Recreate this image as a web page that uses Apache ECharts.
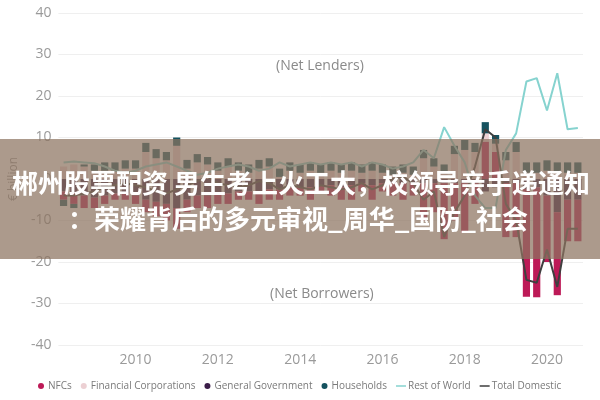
<!DOCTYPE html>
<html>
<head>
<meta charset="utf-8">
<script src="https://cdn.jsdelivr.net/npm/echarts@6/dist/echarts.min.js"></script>
<style>html,body{margin:0;padding:0;background:#fff}#c{width:600px;height:400px}</style>
</head>
<body>
<div id="c"></div>
<script>
const quarters = ['2008Q2','2008Q3','2008Q4',
 '2009Q1','2009Q2','2009Q3','2009Q4','2010Q1','2010Q2','2010Q3','2010Q4',
 '2011Q1','2011Q2','2011Q3','2011Q4','2012Q1','2012Q2','2012Q3','2012Q4',
 '2013Q1','2013Q2','2013Q3','2013Q4','2014Q1','2014Q2','2014Q3','2014Q4',
 '2015Q1','2015Q2','2015Q3','2015Q4','2016Q1','2016Q2','2016Q3','2016Q4',
 '2017Q1','2017Q2','2017Q3','2017Q4','2018Q1','2018Q2','2018Q3','2018Q4',
 '2019Q1','2019Q2','2019Q3','2019Q4','2020Q1','2020Q2','2020Q3','2020Q4'];
const yTicks = [-40,-30,-20,-10,0,10,20,30,40];
const nfcs = [-2,-2.5,-3,-2.5,-2,-1.5,-1.5,-2,-3,-3.5,-4,-5,-3,-3,-3,-2.5,-2.5,-2,-2,-3,-2.5,-2.5,-2,-2,-3,-1.5,-2.5,-3,-3.5,-2,-3.5,-2,-3,-4,-3,-9,-7,-13.5,-9,-12,-5,9,6.5,-13,-13,-26,-26.5,-16,-20,-10,-10];
const finCorps = [3,3.5,3,2,2,2,2.5,2.5,6.5,5,4.5,8,2.5,4,3.5,2,3,2,1.5,2.5,3,0.5,2,1.5,2,1.5,2,1.5,2,1.5,2,1.5,1,1.5,1,5,3,1.5,6,7,6.5,2,2,4.5,6.5,1.5,1.5,2,1.5,1.5,1.5];
const genGov = [-3,-3.5,-4,-4.5,-4,-3.5,-3.5,-4,-5,-5.5,-6,-7,-5,-4,-4,-3.5,-3.5,-3,-3,-3,-2.5,-2.5,-2,-2,-2,-1.5,-1.5,-2,-1.5,-1,-1.5,-1,-1,-1,-1,-1,-1,-1,-1,-1,-1,-3,-2,-1,-1,-2.4,-2,-4,-8,-5,-5];
const households = [-1.5,-1,0.5,1.5,2,2,2,2,2.2,2.2,2,2,2.1,2,1.8,2,2,2,2,2.1,2,2,2,2,2,2,2,2,2,2,2,2,2,2,2,2,2,2,2,2.4,2.2,2.7,2.1,2,2.4,2.5,2.5,2.5,2.5,2.5,2.5];
const restOfWorld = [4,4.2,4,3.8,3,2,1.5,2,3,3.5,4,3,2,1,1.5,2.5,3,3.5,3,2,2.5,4,3,3.5,4,3.5,4,3.5,4,3,4,3.5,2.5,3,4,7,5,12.5,8,4,-4,-7,-7,7,11,23.5,24.3,16.5,25.5,12,12.3];
const totalDomestic = [-4,-4,-3.5,-3,-2,-1.5,-1,-1.5,-2,-3,-3.5,-2.5,-1.5,-0.5,0.5,-1,-1.5,-2,-1.5,-0.5,-1,-2.5,-1.5,-2,-2.5,-1.5,-2,-2.5,-2,-1,-2.5,-1.5,0,0.5,-1,-5,-3,-14,-8,-4,3,12,10,-6,-10,-24.3,-25,-17,-26,-12,-12];

const C = {nfc:'#bd1a57', fin:'#ecd0d3', gov:'#3b1d48', hh:'#15525f', row:'#86d3cf', td:'#3f3f3f'};
const font = '"Open Sans", "Noto Sans", sans-serif';
const lineIcon = 'path://M0,0h0.01v0.01h-0.01z M0,2h12v2h-12z M11.99,5.99h0.01v0.01h-0.01z';
const chart = echarts.init(document.getElementById('c'), null, {renderer:'canvas'});
function bar(name, data, color){
  return {name, type:'bar', stack:'s', data, barCategoryGap:'30%', itemStyle:{color}, emphasis:{disabled:true}, z:2};
}
chart.setOption({
  animation:false,
  grid:{left:55, right:17, top:13, bottom:55},
  xAxis:{type:'category', data:quarters,
    axisLine:{show:false}, axisTick:{show:false},
    axisLabel:{color:'#9a9a9a', fontSize:14, fontFamily:font, margin:8,
      interval:(i,v)=> v.endsWith('Q1') && (parseInt(v)%2===0),
      formatter:v=>v.slice(0,4)}},
  yAxis:{type:'value', min:yTicks[0], max:yTicks[yTicks.length-1], interval:10,
    name:'€ billion', nameLocation:'middle', nameGap:36, nameRotate:90,
    nameTextStyle:{color:'#9a9a9a', fontSize:12, fontFamily:font},
    axisLabel:{color:'#9a9a9a', fontSize:14, fontFamily:font, margin:7},
    splitLine:{lineStyle:{color:'#efefef', width:1}}},
  legend:{bottom:4, left:33, width:566, itemGap:9, itemWidth:10, itemHeight:6,
    textStyle:{color:'#7a7a7a', fontSize:10, fontFamily:font, padding:[0,0,0,-3]},
    data:[{name:'NFCs',icon:'circle'},{name:'Financial Corporations',icon:'circle'},
      {name:'General Government',icon:'circle'},{name:'Households',icon:'circle'},
      {name:'Rest of World',icon:lineIcon},{name:'Total Domestic',icon:lineIcon}]},
  series:[
    bar('General Government', genGov, C.gov),
    bar('NFCs', nfcs, C.nfc),
    bar('Financial Corporations', finCorps, C.fin),
    bar('Households', households, C.hh),
    {name:'Rest of World', type:'line', data:restOfWorld, symbol:'none', lineStyle:{color:C.row, width:2}, itemStyle:{color:C.row}, z:3},
    {name:'Total Domestic', type:'line', data:totalDomestic, symbol:'none', lineStyle:{color:C.td, width:2}, itemStyle:{color:C.td}, z:3}
  ],
  graphic:[
    {type:'text', left:276, top:59, style:{text:'(Net Lenders)', fill:'#8a8a8a', fontSize:14, fontFamily:font}, z:5},
    {type:'text', left:270, top:287, style:{text:'(Net Borrowers)', fill:'#8a8a8a', fontSize:14, fontFamily:font}, z:5},
    {type:'rect', shape:{x:0, y:139, width:600, height:120}, style:{fill:'rgba(140,115,95,0.72)'}, z:100},
    {type:'text', x:301, y:183, style:{text:'郴州股票配资 男生考上火工大，校领导亲手递通知', fill:'#ffffff', font:'bold 26px "Noto Sans CJK SC"', textAlign:'center', textVerticalAlign:'middle'}, z:101},
    {type:'text', x:298, y:219, style:{text:'：荣耀背后的多元审视_周华_国防_社会', fill:'#ffffff', font:'bold 26px "Noto Sans CJK SC"', textAlign:'center', textVerticalAlign:'middle'}, z:101}
  ]
});
</script>
</body>
</html>
